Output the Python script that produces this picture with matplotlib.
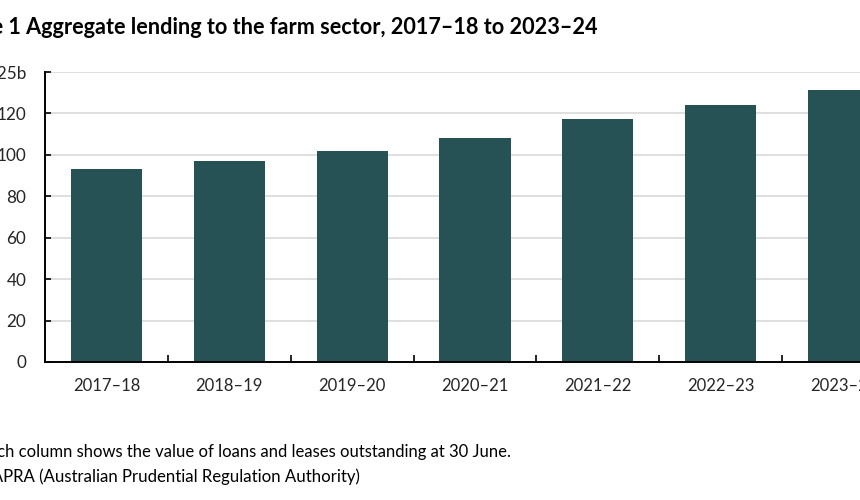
import matplotlib
matplotlib.use("Agg")
import matplotlib.pyplot as plt
from matplotlib.ticker import FixedLocator
import numpy as np

# --------------------------------------------------------------------------- #
# Data ($ billion at 30 June)
# --------------------------------------------------------------------------- #
years = ["2017\u201318", "2018\u201319", "2019\u201320", "2020\u201321",
         "2021\u201322", "2022\u201323", "2023\u201324"]
lending = [93, 97, 102, 108, 117.5, 124, 131.5]
y_ticks = [0, 20, 40, 60, 80, 100, 120, 140]
y_labels = ["0", "20", "40", "60", "80", "100", "120", "$125b"]

title = "Figure 1 Aggregate lending to the farm sector, 2017\u201318 to 2023\u201324"
note = "Note: Each column shows the value of loans and leases outstanding at 30 June."
source = "Source: APRA (Australian Prudential Regulation Authority)"

BAR = "#265155"
GRID = "#d9d9d9"
FONT = ["Lato", "DejaVu Sans"]

plt.rcParams["font.family"] = FONT

W, H = 860, 500
fig = plt.figure(figsize=(W / 100, H / 100), dpi=100)

# axes run past the right edge, as in the cropped reference
x0, x1, ytop, ybot = 45, 905, 72, 362
ax = fig.add_axes([x0 / W, 1 - ybot / H, (x1 - x0) / W, (ybot - ytop) / H])

x = np.arange(len(years))
ax.bar(x, lending, width=0.58, color=BAR, zorder=3)

ax.set_xlim(-0.5, len(years) - 0.5)
ax.set_ylim(0, 140)

ax.set_yticks(y_ticks)
ax.set_yticklabels(y_labels)
ax.yaxis.grid(True, color=GRID, lw=1.2, zorder=0)
ax.tick_params(axis="y", direction="in", length=4, width=1.2, pad=13.5,
               labelsize=12.3, labelcolor="#262626")

ax.set_xticks(x)
ax.set_xticklabels(years)
ax.xaxis.set_minor_locator(FixedLocator(x[:-1] + 0.5))
ax.tick_params(axis="x", which="major", length=0, pad=11.5,
               labelsize=12, labelcolor="#262626")
ax.tick_params(axis="x", which="minor", direction="in", length=5, width=1.2)

for s in ("top", "right"):
    ax.spines[s].set_visible(False)
for s in ("left", "bottom"):
    ax.spines[s].set_linewidth(1.4)
    ax.spines[s].set_color("black")
    ax.spines[s].set_zorder(4)

# texts, right-anchored so the cropped left edge falls where the reference's does
fig.text(598 / W, 1 - 27 / H, title, ha="right", va="center",
         fontsize=15.6, fontweight="bold", color="black")
fig.text(511 / W, 1 - 452 / H, note, ha="right", va="center",
         fontsize=11.95, color="black")
fig.text(360 / W, 1 - 477 / H, source, ha="right", va="center",
         fontsize=12.1, color="black")

fig.savefig("out.png", dpi=100)
